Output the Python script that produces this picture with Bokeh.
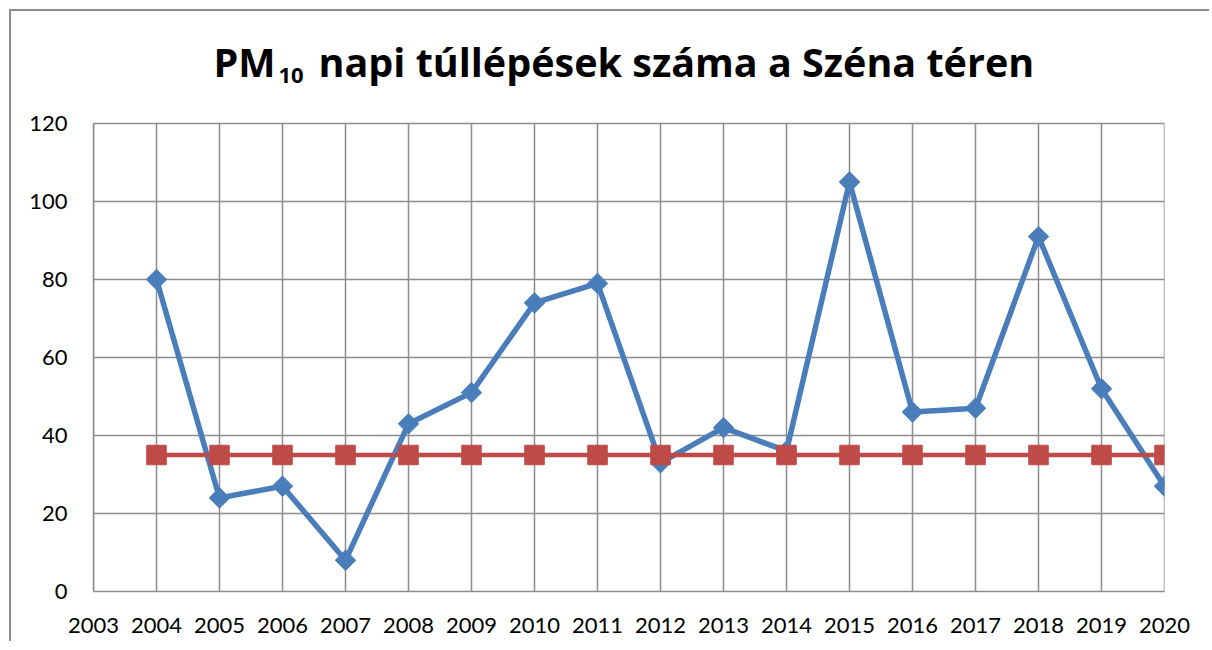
from bokeh.plotting import figure
from bokeh.models import Range1d, FixedTicker, Label
from bokeh.embed import file_html
from bokeh.resources import INLINE
import numpy as np

# ---- data ----
years = [2004, 2005, 2006, 2007, 2008, 2009, 2010, 2011, 2012,
         2013, 2014, 2015, 2016, 2017, 2018, 2019, 2020]
exceedances = [80, 24, 27, 8, 43, 51, 74, 79, 33, 42, 36, 105, 46, 47, 91, 52, 27]
limit = [35] * len(years)
x_ticks = list(range(2003, 2021))
y_ticks = [0, 20, 40, 60, 80, 100, 120]
title_main = "PM"
title_sub = "10"
title_rest = "napi túllépések száma a Széna téren"

BLUE = "#4A7EBB"
RED = "#BE4B48"
GRID = "#8C8C8C"
FONT = "Lato"
TFONT = "Open Sans"

# plot-area geometry (pixels): value axis 0..120 spans 468 px, frame is 580 px tall
FRAME_H = 580
PLOT_H = 468
y_top = y_ticks[-1] * FRAME_H / PLOT_H

p = figure(width=1200, height=632, output_backend="svg", toolbar_location=None,
           title_location=None,
           x_range=Range1d(x_ticks[0], x_ticks[-1]), y_range=Range1d(0, y_top),
           min_border_left=82, min_border_right=47, min_border_top=0,
           min_border_bottom=52)
p.styles = {"margin-left": "9px", "margin-top": "9px",
            "border-left": "2px solid #8C8C8C", "border-top": "2px solid #8C8C8C"}

p.outline_line_color = None

for ax in (p.xaxis[0], p.yaxis[0]):
    ax.axis_line_color = GRID
    ax.axis_line_width = 1.5
    ax.major_tick_line_color = None
    ax.minor_tick_line_color = None
    ax.major_tick_in = 0
    ax.major_tick_out = 0
    ax.major_label_text_font = FONT
    ax.major_label_text_font_size = "22px"
    ax.major_label_text_color = "#000000"

p.yaxis[0].bounds = (y_ticks[0], y_ticks[-1])
p.xaxis[0].ticker = FixedTicker(ticks=x_ticks)
p.yaxis[0].ticker = FixedTicker(ticks=y_ticks)
p.xaxis[0].major_label_standoff = 26
p.yaxis[0].major_label_standoff = 26

# horizontal grid
p.ygrid[0].ticker = FixedTicker(ticks=y_ticks)
p.ygrid[0].grid_line_color = GRID
p.ygrid[0].grid_line_width = 1.5
# vertical grid only within the value range
p.xgrid[0].visible = False
p.segment(x0=x_ticks, y0=[y_ticks[0]] * len(x_ticks), x1=x_ticks,
          y1=[y_ticks[-1]] * len(x_ticks), line_color=GRID, line_width=1.5)

# blue series
p.line(years, exceedances, line_color=BLUE, line_width=5.5)
p.scatter(years, exceedances, marker="square", angle=np.pi / 4, size=14.5,
          fill_color=BLUE, line_color=BLUE)

# red limit series
p.line(years, limit, line_color=RED, line_width=4.5)
p.scatter(years, limit, marker="square", size=19.5, fill_color=RED, line_color=RED)

# title (PM with subscript 10), frame-relative screen units
p.add_layout(Label(x=182, y=530, x_units="screen", y_units="screen", text=title_main,
                   text_font=TFONT, text_font_style="bold", text_font_size="39.5px",
                   text_align="right", text_baseline="alphabetic", text_color="#000000"))
p.add_layout(Label(x=185, y=516, x_units="screen", y_units="screen", text=title_sub,
                   text_font=TFONT, text_font_style="bold", text_font_size="22px",
                   text_align="left", text_baseline="alphabetic", text_color="#000000"))
p.add_layout(Label(x=225, y=530, x_units="screen", y_units="screen", text=title_rest,
                   text_font=TFONT, text_font_style="bold", text_font_size="39.5px",
                   text_align="left", text_baseline="alphabetic", text_color="#000000"))

open("out.html", "w").write(file_html(p, INLINE))
